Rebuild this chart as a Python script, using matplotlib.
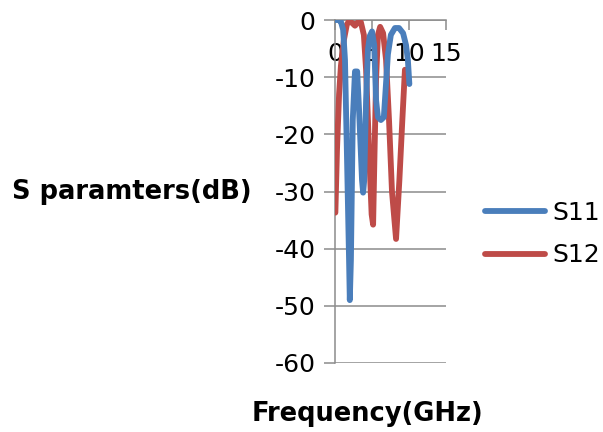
import matplotlib.pyplot as plt

plt.rcParams['axes.unicode_minus'] = False

# S11 readings (GHz, dB)
s11_freq = [0.0, 0.5, 0.8, 1.1, 1.35, 1.6, 1.9, 2.0, 2.15, 2.4, 2.7, 3.0, 3.25,
            3.65, 3.8, 3.95, 4.2, 4.45, 4.7, 5.0, 5.3, 5.55, 5.8, 6.2, 6.6, 6.85,
            7.15, 7.55, 8.1, 8.65, 9.2, 9.6, 9.85, 10.05]
s11_db = [0.0, 0.0, -0.3, -1.7, -7.0, -22.7, -42.0, -49.0, -42.0, -17.5, -9.0,
          -9.0, -15.7, -28.0, -30.2, -28.0, -14.0, -5.2, -2.8, -2.0, -4.4, -14.0,
          -17.0, -17.5, -17.0, -12.0, -6.0, -2.6, -1.4, -1.4, -2.3, -4.4, -7.0,
          -11.2]

# S12 readings (GHz, dB)
s12_freq = [0.05, 0.27, 0.55, 0.8, 1.2, 1.6, 1.9, 2.3, 2.7, 3.1, 3.5, 3.9, 4.2,
            4.6, 4.95, 5.15, 5.35, 5.55, 5.8, 6.1, 6.5, 6.9, 7.3, 7.7, 8.25,
            8.7, 9.1, 9.45]
s12_db = [-33.7, -22.7, -13.0, -8.0, -3.5, -0.8, -0.2, -0.5, -1.0, -0.4, -0.4,
          -2.6, -8.7, -22.7, -34.0, -35.8, -22.7, -10.5, -2.6, -1.2, -2.3, -7.0,
          -17.5, -30.0, -38.3, -28.0, -17.5, -8.7]

blue = '#4A7EBB'
red = '#BE4B48'
grid_col = '#8C8C8C'

fig = plt.figure(figsize=(6.03, 4.32), dpi=100)
ax = fig.add_axes([335 / 603, 1 - 363 / 432, 111 / 603, 343 / 432])

l12, = ax.plot(s12_freq, s12_db, color=red, lw=4.2, solid_capstyle='round',
               solid_joinstyle='round', label='S12', zorder=3)
l11, = ax.plot(s11_freq, s11_db, color=blue, lw=4.2, solid_capstyle='round',
               solid_joinstyle='round', label='S11', zorder=3)

ax.set_xlim(0, 15)
ax.set_ylim(-60, 0)
ax.set_xticks([0, 5, 10, 15])
ax.set_yticks(range(-60, 1, 10))

ax.grid(axis='y', color=grid_col, lw=1.1)
ax.set_axisbelow(True)
for s in ['top', 'right']:
    ax.spines[s].set_visible(False)
ax.spines['bottom'].set_position(('data', 0))
ax.spines['bottom'].set_color(grid_col)
ax.spines['left'].set_color(grid_col)
ax.spines['bottom'].set_linewidth(1.1)
ax.spines['left'].set_linewidth(1.1)
ax.tick_params(axis='y', direction='out', length=8, width=1.1, color=grid_col,
               labelsize=18, pad=6)
ax.tick_params(axis='x', direction='out', length=7, width=1.1, color=grid_col,
               labelsize=18, pad=9)
for lab in ax.get_xticklabels():
    lab.set_zorder(5)

fig.text(12 / 603, 1 - 192 / 432, 'S paramters(dB)', fontsize=18.5,
         fontweight='bold', ha='left', va='center')
fig.text(368 / 603, 1 - 414 / 432, 'Frequency(GHz)', fontsize=18.5,
         fontweight='bold', ha='center', va='center')

fig.legend(handles=[l11, l12], loc='center left',
           bbox_to_anchor=(485 / 603, 1 - 234 / 432), frameon=False,
           fontsize=18, handlelength=2.4, handletextpad=0.3,
           labelspacing=0.75, borderpad=0, borderaxespad=0)

fig.savefig('out.png', dpi=100)
